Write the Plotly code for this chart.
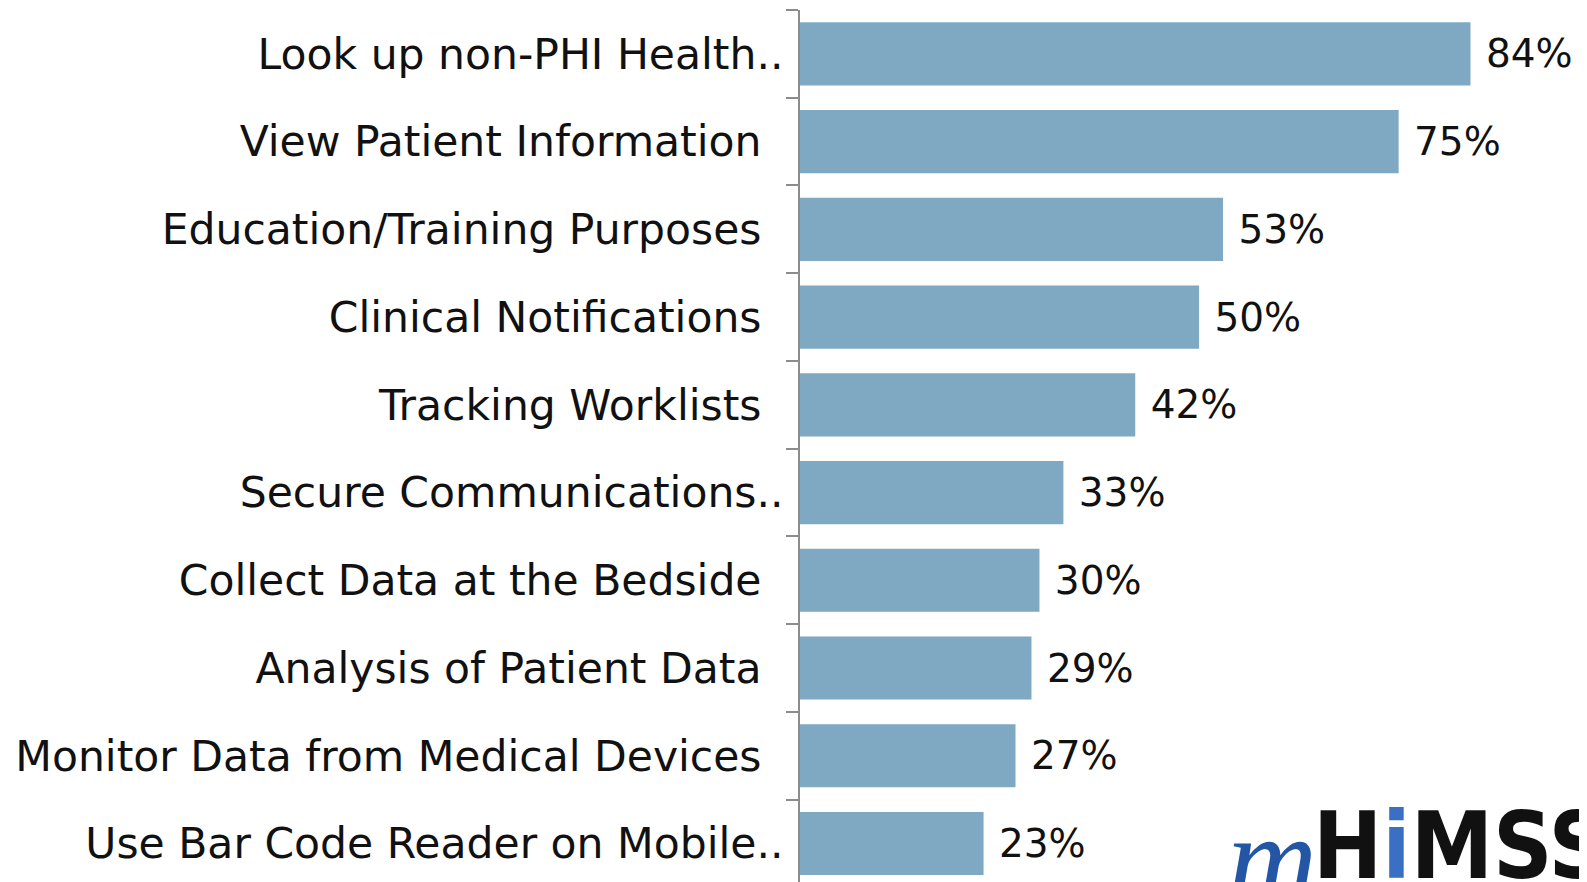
import plotly.graph_objects as go

# survey data, top to bottom
categories = [
    "Look up non-PHI Health..",
    "View Patient Information",
    "Education/Training Purposes",
    "Clinical Notifications",
    "Tracking Worklists",
    "Secure Communications..",
    "Collect Data at the Bedside",
    "Analysis of Patient Data",
    "Monitor Data from Medical Devices",
    "Use Bar Code Reader on Mobile..",
]
values = [84, 75, 53, 50, 42, 33, 30, 29, 27, 23]

# truncated labels run closer to the axis, pad the others
ticktext = [c if c.endswith("..") else c + "\u00a0\u2009" for c in categories]

fig = go.Figure()
fig.add_trace(go.Bar(
    y=categories, x=values, orientation="h",
    width=0.72,
    marker=dict(color="#7fa8c2", line=dict(width=0)),
    text=values,
    texttemplate="\u00a0%{x}%",
    textposition="outside",
    cliponaxis=False,
    textfont=dict(family="DejaVu Sans", size=39, color="#111111"),
    hoverinfo="skip",
))

fig.update_xaxes(range=[0, 99.6], visible=False, showgrid=False, automargin=False)
fig.update_yaxes(
    type="category",
    categoryorder="array", categoryarray=categories,
    tickvals=categories, ticktext=ticktext,
    range=[9.53, -0.5],
    showline=True, linecolor="#8c8c8c", linewidth=2,
    ticks="outside", tickson="boundaries", ticklen=12,
    tickcolor="#8c8c8c", tickwidth=2,
    ticklabelstandoff=6,
    showgrid=False, automargin=False,
    tickfont=dict(family="DejaVu Sans", size=42.5, color="#111111"),
)

# mHIMSS logo, cut off by the bottom edge
fig.add_annotation(
    xref="paper", yref="paper", x=0.535, y=-0.045, xanchor="left", yanchor="bottom",
    text="<i>m</i>", showarrow=False,
    font=dict(family="Liberation Serif", size=125, color="#2456a6"),
)
fig.add_annotation(
    xref="paper", yref="paper", x=0.643, y=0.1125, xanchor="left", yanchor="top",
    text="<b>H<span style='color:#3a6fc4'>i</span>MSS</b>", showarrow=False,
    font=dict(family="DejaVu Sans Condensed, Roboto", size=92, color="#111111"),
)

fig.update_layout(
    width=1587, height=882,
    margin=dict(l=792, r=0, t=2, b=0, autoexpand=False),
    paper_bgcolor="white", plot_bgcolor="white",
    showlegend=False,
    bargap=0.28,
)

fig.write_html("out.html")
